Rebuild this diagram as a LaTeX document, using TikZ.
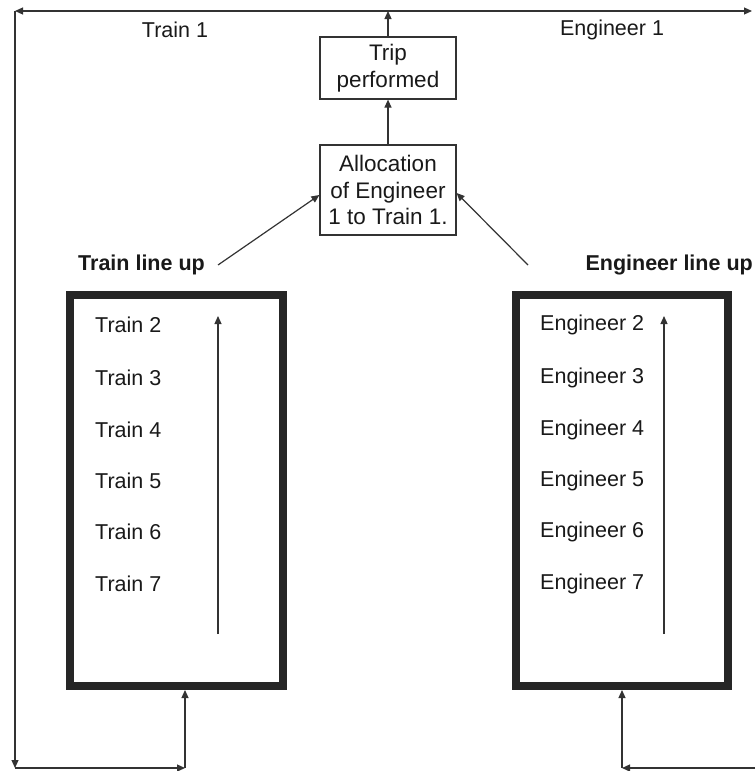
\documentclass[tikz,border=0pt]{standalone}
\usepackage{fontspec}
\setmainfont{Liberation Sans}
\usetikzlibrary{arrows.meta}
\begin{document}
\begin{tikzpicture}[x=1pt,y=-1pt,
  every node/.style={font=\fontsize{21.5}{25}\selectfont, text=black!90},
  flow/.style={draw=black!80, line width=1.2pt, -{Triangle[length=8pt,width=7pt]}},
  procbox/.style={draw=black!80, line width=1.2pt, minimum width=136pt, align=center, inner sep=2pt,
    font=\fontsize{22.5}{27.5}\selectfont},
  lineup/.style={draw=black!85, line width=8pt},
  item/.style={anchor=west, inner sep=0pt},
  heading/.style={font=\fontsize{21.5}{25}\selectfont\bfseries, inner sep=0pt}]
\useasboundingbox (0,0) rectangle (755,771);

% process boxes
\node[procbox, minimum height=62pt] (trip) at (388,68) {Trip\\[0pt]performed};
\node[procbox, minimum height=90pt] (alloc) at (388,190) {Allocation\\[-1pt]of Engineer\\[-1pt]1 to Train 1.};

% top distribution line
\coordinate (top) at (388,11);
\coordinate (tl) at (15,11);
\coordinate (tr) at (752,11);
\draw[flow] (top) -- (tl);
\draw[flow] (top) -- (tr);
\draw[flow] (trip.north) -- (top);
\draw[flow] (alloc.north) -- (trip.south);
\node at (175,30) {Train 1};
\node at (612,30) {Engineer 1};

% line-up boxes
\draw[lineup] (70,295) rectangle (283,686);
\draw[lineup] (516,295) rectangle (728,686);
\coordinate (lbb) at (185,690);
\coordinate (rbb) at (622,690);

\node[heading, anchor=west] (tlu) at (78,265) {Train line up};
\node[heading, anchor=east] (elu) at (753,265) {Engineer line up};

\coordinate (la) at (218,265);
\coordinate (ra) at (528,265);
\draw[flow] (la) -- (alloc.west |- 0,195);
\draw[flow] (ra) -- (alloc.east |- 0,193);

% queue entries
\foreach \k/\y in {2/325,3/378,4/430,5/481,6/532,7/584}{
  \node[item] (t\k) at (95,\y) {Train \k};
  \node[item] (e\k) at (540,\y) {Engineer \k};
}
\coordinate (lq0) at (218,634);
\coordinate (rq0) at (664,634);
\draw[flow] (lq0) -- (218,316);
\draw[flow] (rq0) -- (664,316);

% return loops
\coordinate (lc) at (15,768);
\coordinate (lr) at (185,768);
\coordinate (rc) at (622,768);
\coordinate (re) at (755,768);
\draw[flow] (tl) -- (lc);
\draw[flow] (lc) -- (lr);
\draw[flow] (lr) -- (lbb);
\draw[flow] (re) -- (rc);
\draw[flow] (rc) -- (rbb);
\end{tikzpicture}
\end{document}
